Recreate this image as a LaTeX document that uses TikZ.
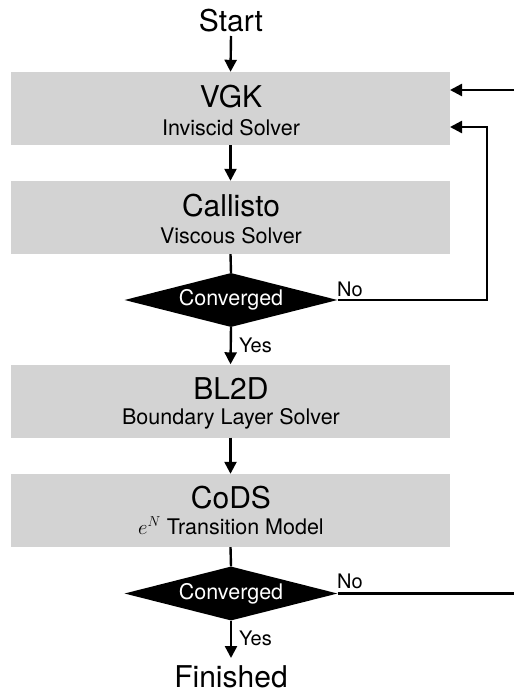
\documentclass[tikz,border=0pt]{standalone}
\usepackage{fontspec}
\setmainfont{TeX Gyre Heros}
\usetikzlibrary{arrows.meta,shapes.geometric}
\definecolor{boxgray}{RGB}{211,211,211}
\tikzset{
  box/.style={rectangle,fill=boxgray,draw=none,minimum width=439pt,minimum height=73pt,inner sep=0pt},
  title/.style={anchor=base,inner sep=0pt,font=\fontsize{30}{30}\selectfont},
  sub/.style={anchor=base,inner sep=0pt,font=\fontsize{21.5}{24}\selectfont},
  endtext/.style={anchor=base,inner sep=0pt,font=\fontsize{30}{30}\selectfont},
  decision/.style={diamond,aspect=4,fill=black,draw=none,minimum width=213pt,minimum height=54pt,inner sep=0pt,text=white,font=\fontsize{21.5}{24}\selectfont},
  lab/.style={inner sep=0pt,font=\fontsize{20}{22}\selectfont},
  conn/.style={line width=2.4pt},
  arr/.style={line width=2.4pt,-{Triangle[length=12pt,width=12pt]}}
}
\begin{document}
\begin{tikzpicture}[x=1pt,y=-1pt]
\useasboundingbox (0,0) rectangle (514,695);
% boxes
\node[box] (vgk) at (230.5,108.5) {};
\node[box] (cal) at (230.5,217.5) {};
\node[box] (bl) at (230.5,401) {};
\node[box] (cods) at (230.5,510.5) {};
% titles
\node[title] (vgkt) at (231,108) {VGK};
\node[sub] (vgks) at (231,136) {Inviscid Solver};
\node[title] (calt) at (231,216) {Callisto};
\node[sub] (cals) at (231,243) {Viscous Solver};
\node[title] (blt) at (231,399) {BL2D};
\node[sub] (bls) at (231,424) {Boundary Layer Solver};
\node[title] (codst) at (231,508) {CoDS};
\node[sub] (codss) at (231,534) {$e^N$ Transition Model};
% decisions
\node[decision] (d1) at (231,300) {Converged};
\node[decision] (d2) at (231,593.5) {Converged};
% terminals
\node[endtext] (start) at (231,32) {Start};
\node[endtext] (fin) at (231,687) {Finished};
\coordinate (finN) at (231,658);
\coordinate (startS) at (231,36);
% connectors
\draw[arr] (startS) -- (vgk.north);
\draw[arr] (vgk.south) -- (cal.north);
\draw[conn] (cal.south) -- (d1.north);
\draw[arr] (d1.south) -- (bl.north);
\draw[arr] (bl.south) -- (cods.north);
\draw[conn] (cods.south) -- (d2.north);
\draw[arr] (d2.south) -- (finN);
\coordinate (loopA) at (487,300);
\coordinate (loopB) at (487,127);
\coordinate (loopC) at (450,127);
\draw[arr] (d1.east) -- (loopA) -- (loopB) -- (loopC);
\coordinate (inR) at (514,90);
\coordinate (inL) at (450,90);
\draw[arr] (inR) -- (inL);
\coordinate (outR) at (514,593.5);
\draw[conn] (d2.east) -- (outR);
% labels
\node[lab,anchor=base west] (no1) at (337,296) {No};
\node[lab,anchor=base west] (yes1) at (239,352) {Yes};
\node[lab,anchor=base west] (no2) at (337,588) {No};
\node[lab,anchor=base west] (yes2) at (239,645) {Yes};
\end{tikzpicture}
\end{document}
